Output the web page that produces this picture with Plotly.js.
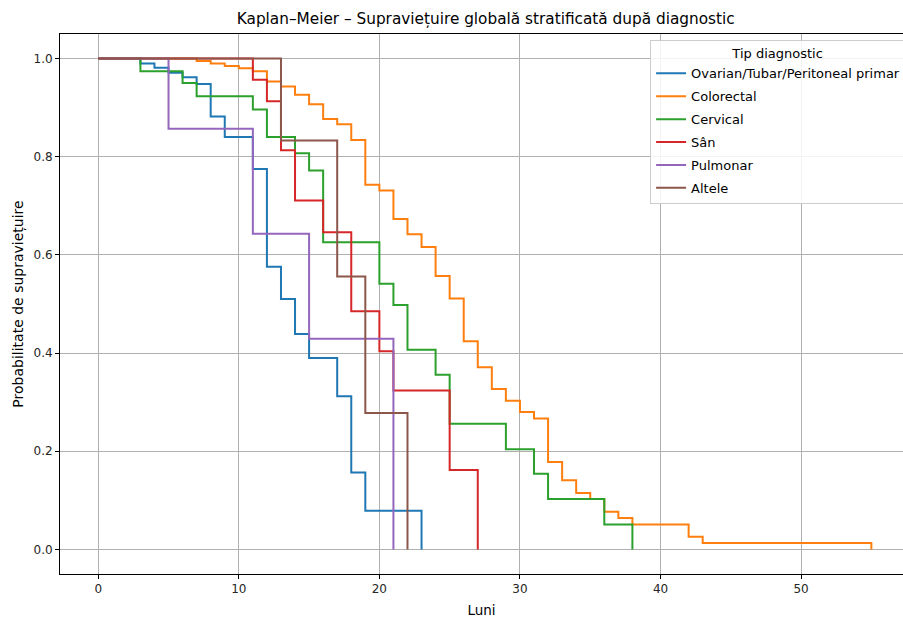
<!DOCTYPE html>
<html>
<head>
<meta charset="utf-8">
<script src="https://cdn.plot.ly/plotly-3.0.1.min.js"></script>
<style>html,body{margin:0;padding:0;background:#fff;}#chart{width:903px;height:618px;}</style>
</head>
<body>
<div id="chart"></div>
<script>
const seriesNames = ["Ovarian/Tubar/Peritoneal primar", "Colorectal", "Cervical", "Sân", "Pulmonar", "Altele"];
const seriesColors = ["#1f77b4", "#ff7f0e", "#2ca02c", "#d62728", "#9467bd", "#8c564b"];

const ovarianT = [0, 3, 4, 5, 6, 7, 8, 9, 11, 12, 13, 14, 15, 17, 18, 19, 23];
const ovarianS = [1, 0.990, 0.981, 0.971, 0.962, 0.948, 0.882, 0.840, 0.775, 0.576, 0.510, 0.439, 0.390, 0.312, 0.157, 0.079, 0];

const colorectalT = [0, 7, 8, 9, 10, 11, 12, 13, 14, 15, 16, 17, 18, 19, 20, 21, 22, 23, 24, 25, 26, 27, 28, 29, 30, 31, 32, 33, 34, 35, 36, 37, 38, 42, 43, 55];
const colorectalS = [1, 0.995, 0.990, 0.985, 0.980, 0.974, 0.953, 0.943, 0.926, 0.907, 0.877, 0.866, 0.834, 0.743, 0.731, 0.673, 0.642, 0.616, 0.557, 0.511, 0.424, 0.371, 0.327, 0.303, 0.280, 0.267, 0.178, 0.141, 0.115, 0.103, 0.077, 0.064, 0.051, 0.026, 0.013, 0];

const cervicalT = [0, 3, 6, 7, 11, 12, 14, 15, 16, 20, 21, 22, 24, 25, 29, 31, 32, 36, 38];
const cervicalS = [1, 0.974, 0.950, 0.923, 0.896, 0.840, 0.807, 0.772, 0.626, 0.541, 0.498, 0.407, 0.356, 0.256, 0.204, 0.154, 0.103, 0.051, 0];

const sanT = [0, 11, 12, 13, 14, 16, 18, 20, 21, 25, 27];
const sanS = [1, 0.957, 0.913, 0.813, 0.711, 0.646, 0.485, 0.404, 0.324, 0.162, 0];

const pulmonarT = [0, 5, 11, 15, 21];
const pulmonarS = [1, 0.857, 0.643, 0.429, 0];

const alteleT = [0, 13, 17, 19, 22];
const alteleS = [1, 0.833, 0.556, 0.278, 0];

const xTicks = [0, 10, 20, 30, 40, 50];
const yTicks = [0.0, 0.2, 0.4, 0.6, 0.8, 1.0];
const yTickLabels = ["0.0", "0.2", "0.4", "0.6", "0.8", "1.0"];

const allT = [ovarianT, colorectalT, cervicalT, sanT, pulmonarT, alteleT];
const allS = [ovarianS, colorectalS, cervicalS, sanS, pulmonarS, alteleS];

const traces = seriesNames.map((n, i) => ({
  x: allT[i], y: allS[i], name: n, type: 'scatter', mode: 'lines',
  legendgroup: 'g' + i,
  line: {shape: 'hv', color: seriesColors[i], width: 2}
}));

const font = "DejaVu Sans, sans-serif";
const layout = {
  width: 903, height: 618,
  margin: {l: 60, r: 0, t: 34, b: 44, autoexpand: false},
  paper_bgcolor: '#fff', plot_bgcolor: '#fff',
  font: {family: font, size: 12, color: '#262626'},
  title: {text: "Kaplan–Meier – Supraviețuire globală stratificată după diagnostic",
          font: {family: font, size: 15.3, color: '#000'}, xref: 'paper', x: 0.505, xanchor: 'center', y: 0.978, yanchor: 'top'},
  xaxis: {
    range: [-2.72, 57.25], tickvals: xTicks, ticktext: xTicks.map(String),
    showgrid: true, gridcolor: '#b0b0b0', gridwidth: 1,
    zeroline: false, showline: true, linecolor: '#000', linewidth: 1, mirror: true,
    ticks: 'outside', ticklen: 4, tickcolor: '#000',
    tickfont: {family: font, size: 12, color: '#262626'},
    title: {text: "Luni", font: {family: font, size: 13.5, color: '#000'}, standoff: 10}
  },
  yaxis: {
    range: [-0.05, 1.05], tickvals: yTicks, ticktext: yTickLabels,
    showgrid: true, gridcolor: '#b0b0b0', gridwidth: 1,
    zeroline: false, showline: true, linecolor: '#000', linewidth: 1, mirror: true,
    ticks: 'outside', ticklen: 4, tickcolor: '#000',
    tickfont: {family: font, size: 12, color: '#262626'},
    title: {text: "Probabilitate de supraviețuire", font: {family: font, size: 14, color: '#000'}, standoff: 6}
  },
  showlegend: true,
  legend: {
    x: 0.700, xanchor: 'left', y: 0.988, yanchor: 'top',
    bgcolor: 'rgba(255,255,255,0.85)', bordercolor: '#cccccc', borderwidth: 1,
    font: {family: font, size: 13, color: '#000'},
    title: {text: "Tip diagnostic", side: 'top center', font: {family: font, size: 13, color: '#000'}},
    tracegroupgap: 3, itemwidth: 30
  }
};

Plotly.newPlot('chart', traces, layout, {displayModeBar: false, staticPlot: true});
</script>
</body>
</html>
